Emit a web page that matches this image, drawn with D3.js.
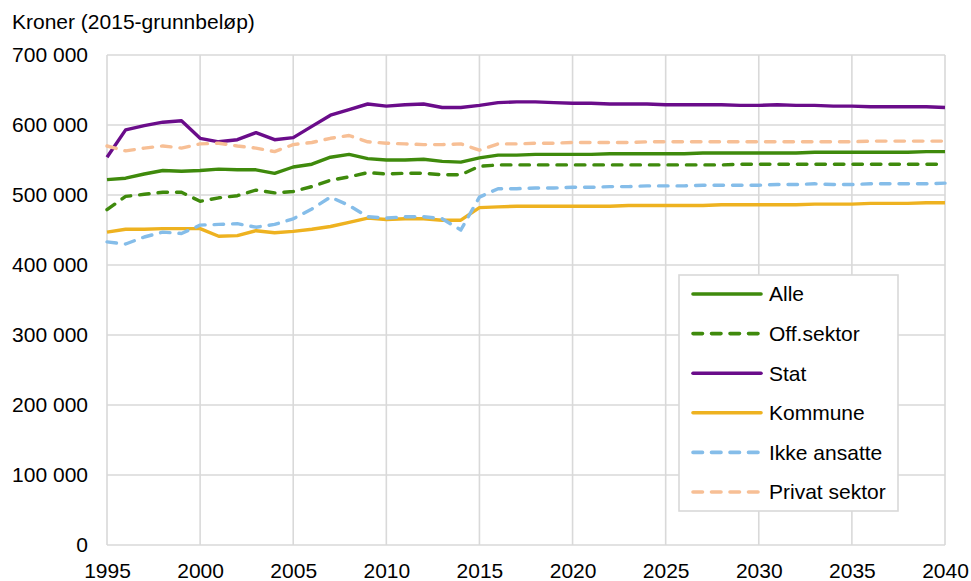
<!DOCTYPE html>
<html>
<head>
<meta charset="utf-8">
<script src="https://cdn.jsdelivr.net/npm/d3@7"></script>
<style>
  html, body { margin: 0; padding: 0; background: #fff; }
  svg { display: block; font-family: "Liberation Sans", Arial, sans-serif; }
</style>
</head>
<body>
<svg id="chart" width="971" height="581"></svg>
<script>
// values in thousand kroner (2015-grunnbeløp)
const years = d3.range(1995, 2041);

const alle = [522, 524, 530, 535, 534, 535, 537, 536, 536, 531, 540, 544, 554, 558, 552, 550, 550, 551, 548, 547,
    553, 557, 557, 558, 558, 558, 558, 559, 559, 559, 559, 559, 560, 560, 560, 560, 560, 560, 561, 561, 561, 561, 561, 561, 562, 562];
const offSektor = [479, 498, 501, 504, 504, 491, 496, 499, 507, 503, 505, 512, 521, 526, 532, 530, 531, 531, 529, 529,
    541, 543, 543, 543, 543, 543, 543, 543, 543, 543, 543, 543, 543, 543, 544, 544, 544, 544, 544, 544, 544, 544, 544, 544, 544, 544];
const stat = [554, 593, 599, 604, 606, 581, 576, 579, 589, 579, 582, 598, 614, 622, 630, 627, 629, 630, 625, 625,
    628, 632, 633, 633, 632, 631, 631, 630, 630, 630, 629, 629, 629, 629, 628, 628, 629, 628, 628, 627, 627, 626, 626, 626, 626, 625];
const kommune = [447, 451, 451, 452, 452, 452, 441, 442, 449, 446, 448, 451, 455, 461, 467, 465, 466, 466, 464, 464,
    482, 483, 484, 484, 484, 484, 484, 484, 485, 485, 485, 485, 485, 486, 486, 486, 486, 486, 487, 487, 487, 488, 488, 488, 489, 489];
const ikkeAnsatte = [433, 430, 440, 447, 445, 457, 458, 459, 454, 458, 466, 480, 497, 485, 469, 467, 469, 469, 466, 450,
    497, 509, 509, 510, 510, 511, 511, 512, 512, 513, 513, 513, 514, 514, 514, 514, 515, 515, 516, 515, 515, 516, 516, 516, 516, 517];
const privatSektor = [570, 563, 567, 570, 567, 573, 574, 570, 567, 562, 572, 575, 581, 585, 576, 574, 573, 572, 572, 573,
    564, 573, 573, 574, 574, 575, 575, 575, 575, 576, 576, 576, 576, 576, 576, 576, 576, 576, 576, 576, 576, 577, 577, 577, 577, 577];

const seriesNames = ["Alle", "Off.sektor", "Stat", "Kommune", "Ikke ansatte", "Privat sektor"];
const yTicks = [0, 100, 200, 300, 400, 500, 600, 700];
const yTickLabels = ["0", "100 000", "200 000", "300 000", "400 000", "500 000", "600 000", "700 000"];
const xTicks = [1995, 2000, 2005, 2010, 2015, 2020, 2025, 2030, 2035, 2040];

const series = [
    { name: seriesNames[0], values: alle, color: "#3f8a0c", dashed: false },
    { name: seriesNames[1], values: offSektor, color: "#3f8a0c", dashed: true },
    { name: seriesNames[2], values: stat, color: "#6a0c8a", dashed: false },
    { name: seriesNames[3], values: kommune, color: "#eeb220", dashed: false },
    { name: seriesNames[4], values: ikkeAnsatte, color: "#85bde9", dashed: true },
    { name: seriesNames[5], values: privatSektor, color: "#f7bf95", dashed: true }
];

const svg = d3.select("#chart");
const margin = { top: 55, right: 26, bottom: 36, left: 107 },
    width = +svg.attr("width") - margin.left - margin.right,
    height = +svg.attr("height") - margin.top - margin.bottom;

const fontSize = "21px";
const gridColor = "#d9d9d9";

const x = d3.scaleLinear().domain([1995, 2040]).range([margin.left, margin.left + width]);
const y = d3.scaleLinear().domain([0, 700]).range([margin.top + height, margin.top]);

// title
svg.append("text")
    .attr("x", 12)
    .attr("y", 29)
    .attr("font-size", fontSize)
    .attr("fill", "#000")
    .text("Kroner (2015-grunnbeløp)");

// grid
svg.append("g")
    .selectAll("line")
    .data(yTicks)
    .enter().append("line")
    .attr("x1", x(1995))
    .attr("x2", x(2040))
    .attr("y1", d => y(d))
    .attr("y2", d => y(d))
    .attr("stroke", gridColor)
    .attr("stroke-width", 1.6);

svg.append("g")
    .selectAll("line")
    .data(xTicks)
    .enter().append("line")
    .attr("x1", d => x(d))
    .attr("x2", d => x(d))
    .attr("y1", y(0))
    .attr("y2", y(700))
    .attr("stroke", gridColor)
    .attr("stroke-width", 1.6);

// axes (labels only, the grid is the frame)
const yAxis = svg.append("g")
    .attr("transform", "translate(" + (margin.left - 19) + ",0)")
    .call(d3.axisLeft(y).tickValues(yTicks).tickSize(0).tickPadding(0)
        .tickFormat((d, i) => yTickLabels[i]));
yAxis.select(".domain").remove();
yAxis.selectAll("text")
    .attr("font-size", fontSize)
    .attr("font-family", "Liberation Sans, Arial, sans-serif")
    .attr("fill", "#000");

const xAxis = svg.append("g")
    .attr("transform", "translate(0," + (y(0) + 18) + ")")
    .call(d3.axisBottom(x).tickValues(xTicks).tickSize(0).tickPadding(0).tickFormat(d3.format("d")));
xAxis.select(".domain").remove();
xAxis.selectAll("text")
    .attr("font-size", fontSize)
    .attr("font-family", "Liberation Sans, Arial, sans-serif")
    .attr("fill", "#000");

// lines
const line = d3.line()
    .x((d, i) => x(years[i]))
    .y(d => y(d));

svg.append("g")
    .selectAll("path")
    .data(series)
    .enter().append("path")
    .attr("d", s => line(s.values))
    .attr("fill", "none")
    .attr("stroke", s => s.color)
    .attr("stroke-width", 3.4)
    .attr("stroke-linejoin", "round")
    .attr("stroke-linecap", s => s.dashed ? "round" : "butt")
    .attr("stroke-dasharray", s => s.dashed ? "9.5,9" : null);

// legend
const legend = svg.append("g").attr("transform", "translate(679,275)");
legend.append("rect")
    .attr("width", 219)
    .attr("height", 236)
    .attr("fill", "#fff")
    .attr("stroke", gridColor)
    .attr("stroke-width", 1.6);

const items = legend.selectAll("g.item")
    .data(series)
    .enter().append("g")
    .attr("class", "item")
    .attr("transform", (s, i) => "translate(0," + (19 + i * 39.6) + ")");

items.append("line")
    .attr("x1", 14)
    .attr("x2", 82)
    .attr("stroke", s => s.color)
    .attr("stroke-width", 3.6)
    .attr("stroke-linecap", "round")
    .attr("stroke-dasharray", s => s.dashed ? "9.5,9" : null);

items.append("text")
    .attr("x", 90)
    .attr("dy", "0.35em")
    .attr("font-size", fontSize)
    .attr("fill", "#000")
    .text(s => s.name);
</script>
</body>
</html>
